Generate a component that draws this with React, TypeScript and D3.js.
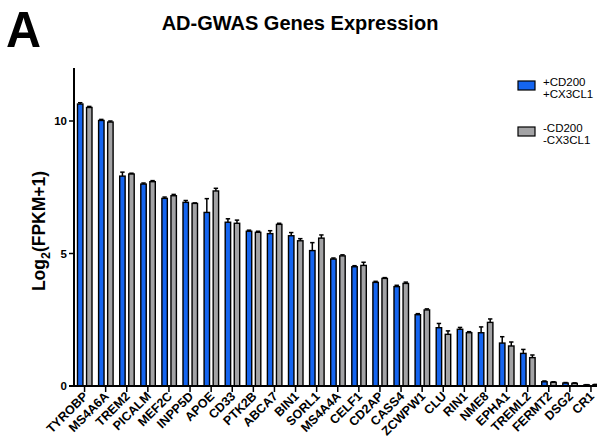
import React from "react";
import * as d3 from "d3";

const genes = ["TYROBP","MS4A6A","TREM2","PICALM","MEF2C","INPP5D","APOE","CD33","PTK2B","ABCA7","BIN1","SORL1","MS4A4A","CELF1","CD2AP","CASS4","ZCWPW1","CLU","RIN1","NME8","EPHA1","TREML2","FERMT2","DSG2","CR1"];
const plusValues = [10.64,10.02,7.92,7.62,7.08,6.93,6.55,6.18,5.84,5.75,5.67,5.11,4.79,4.50,3.91,3.75,2.69,2.20,2.14,2.01,1.62,1.23,0.16,0.11,0.04];
const plusErrors = [0.05,0.04,0.15,0.04,0.05,0.07,0.52,0.13,0.04,0.11,0.12,0.30,0.04,0.04,0.04,0.05,0.04,0.16,0.07,0.22,0.24,0.15,0.03,0.02,0.01];
const minusValues = [10.51,9.96,8.00,7.71,7.18,6.89,7.36,6.14,5.80,6.10,5.48,5.58,4.91,4.55,4.06,3.87,2.87,1.95,2.01,2.40,1.51,1.07,0.14,0.10,0.05];
const minusErrors = [0.04,0.04,0.03,0.04,0.05,0.02,0.10,0.12,0.04,0.04,0.08,0.12,0.04,0.12,0.03,0.05,0.04,0.13,0.04,0.13,0.15,0.10,0.02,0.02,0.01];
const seriesNames = ["+CD200\n+CX3CL1", "-CD200\n-CX3CL1"];
const yTicks = [0, 5, 10];

const BLUE = "#1565f0";
const GRAY = "#a3a3a5";
const FONT = "Liberation Sans, Arial, Helvetica, sans-serif";

export default function App() {
  const W = 597, H = 444;
  const x0 = 74, y0 = 386;
  const x = d3.scaleBand<string>().domain(genes).range([x0, x0 + 25 * 21.1]).padding(0);
  const inner = d3.scaleBand<string>().domain(["p", "m"]).range([3.5, 18]).paddingInner(0.4);
  const y = d3.scaleLinear().domain([0, 12]).range([y0, 68]);
  const series = [
    { key: "p", vals: plusValues, errs: plusErrors, color: BLUE },
    { key: "m", vals: minusValues, errs: minusErrors, color: GRAY },
  ];
  const bw = inner.bandwidth();
  return (
    <svg width={W} height={H} style={{ position: "absolute", left: 0, top: 0 }} fontFamily={FONT}>
      <rect width={W} height={H} fill="#fff" />
      <text x={6} y={47} fontSize={50} fontWeight="bold" textLength={35} lengthAdjust="spacingAndGlyphs">A</text>
      <text x={300} y={30} fontSize={20} fontWeight="bold" textAnchor="middle">AD-GWAS Genes Expression</text>
      <text transform={`translate(45,231) rotate(-90)`} fontSize={17.5} fontWeight="bold" textAnchor="middle">
        Log<tspan fontSize={12.5} dy={5}>2</tspan><tspan dy={-5}>(FPKM+1)</tspan>
      </text>
      {genes.map((g, i) =>
        series.map((s) => {
          const bx = (x(g) as number) + (inner(s.key) as number);
          const v = s.vals[i];
          const e = s.errs[i];
          const cx = bx + bw / 2;
          return (
            <g key={g + s.key}>
              <line x1={cx} x2={cx} y1={y(v)} y2={y(v + e)} stroke="#000" strokeWidth={1.5} />
              <line x1={cx - 2.2} x2={cx + 2.2} y1={y(v + e)} y2={y(v + e)} stroke="#000" strokeWidth={1.5} />
              <rect x={bx} y={y(v)} width={bw} height={y0 - y(v)} fill={s.color} stroke="#000" strokeWidth={1.4} />
            </g>
          );
        })
      )}
      <line x1={x0} x2={x0} y1={y(12)} y2={y0} stroke="#000" strokeWidth={2} />
      <line x1={x0 - 5} x2={W} y1={y0} y2={y0} stroke="#000" strokeWidth={2} />
      {yTicks.map((t) => (
        <g key={t}>
          <line x1={x0 - 5} x2={x0} y1={y(t)} y2={y(t)} stroke="#000" strokeWidth={1.5} />
          <text x={x0 - 7} y={y(t) + 4} fontSize={11.5} fontWeight="bold" textAnchor="end">{t}</text>
        </g>
      ))}
      {genes.map((g) => {
        const cx = (x(g) as number) + x.bandwidth() / 2;
        return (
          <g key={g}>
            <line x1={cx} x2={cx} y1={y0} y2={y0 + 6} stroke="#000" strokeWidth={1.5} />
            <text transform={`translate(${cx + 4},${y0 + 11}) rotate(-45)`} fontSize={12.5} fontWeight="bold" textAnchor="end">{g}</text>
          </g>
        );
      })}
      {series.map((s, i) => {
        const ly = 81 + i * 46;
        const lines = seriesNames[i].split("\n");
        return (
          <g key={s.key}>
            <rect x={518} y={ly} width={17} height={9} fill={s.color} stroke="#000" strokeWidth={1.2} />
            <text x={543} y={ly + 5} fontSize={11.5}>{lines[0]}</text>
            <text x={543} y={ly + 17} fontSize={11.5}>{lines[1]}</text>
          </g>
        );
      })}
    </svg>
  );
}
